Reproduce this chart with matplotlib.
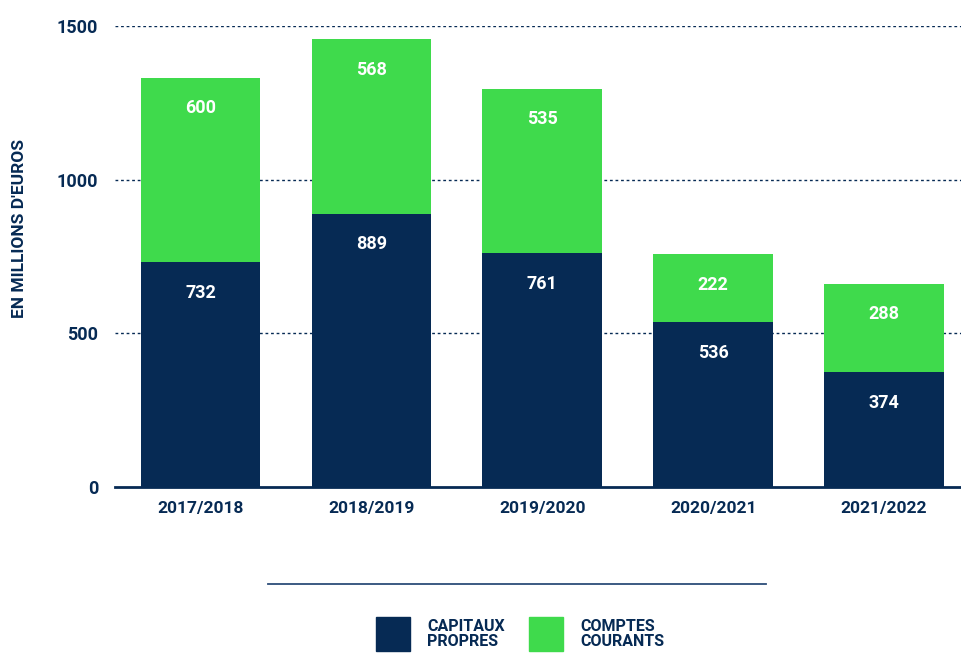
import matplotlib
matplotlib.use("Agg")
import matplotlib.pyplot as plt
from matplotlib import font_manager
from matplotlib.patches import Rectangle
from matplotlib.lines import Line2D

categories = ["2017/2018", "2018/2019", "2019/2020", "2020/2021", "2021/2022"]
capitaux = [732, 889, 761, 536, 374]
comptes = [600, 568, 535, 222, 288]
yticks = [0, 500, 1000, 1500]
series_names = ["CAPITAUX\nPROPRES", "COMPTES\nCOURANTS"]

navy = "#062a54"
green = "#3fda4c"

avail = {f.name for f in font_manager.fontManager.ttflist}
fam = [f for f in ["Liberation Sans Narrow", "DejaVu Sans Condensed", "Roboto", "DejaVu Sans"] if f in avail]
plt.rcParams['font.family'] = fam

fig = plt.figure(figsize=(9.62, 6.54), dpi=100)
W, H = 962, 654
ax = fig.add_axes([115 / W, 1 - 487 / H, 1 - 115 / W, (487 - 26) / H])

x = list(range(len(categories)))
ax.bar(x, capitaux, width=0.70, color=navy, zorder=3)
ax.bar(x, comptes, bottom=capitaux, width=0.70, color=green, zorder=3)

for i in x:
    ax.annotate(str(capitaux[i]), (i, capitaux[i]), xytext=(0, -22), textcoords="offset points",
                ha="center", va="center", color="white", fontsize=13, fontweight="bold", zorder=4)
    top = capitaux[i] + comptes[i]
    ax.annotate(str(comptes[i]), (i, top), xytext=(0, -22), textcoords="offset points",
                ha="center", va="center", color="white", fontsize=13, fontweight="bold", zorder=4)

ax.set_xlim(-0.5, (W - 200) / 171)
ax.set_ylim(0, 1500)
ax.set_yticks(yticks)
ax.set_yticklabels([str(v) for v in yticks], fontsize=13, fontweight="bold", color=navy)
ax.set_xticks(x)
ax.set_xticklabels(categories, fontsize=12.5, fontweight="bold", color=navy)
ax.tick_params(axis="both", length=0)
ax.tick_params(axis="y", pad=12)
ax.tick_params(axis="x", pad=10)
for v in yticks[1:]:
    ax.axhline(v, color=navy, lw=1, ls=(0, (2, 2)), zorder=1)
for s in ["top", "right", "left"]:
    ax.spines[s].set_visible(False)
ax.spines["bottom"].set_color(navy)
ax.spines["bottom"].set_linewidth(2)
ax.spines["bottom"].set_zorder(5)

fig.text(20 / W, 1 - 228 / H, "EN MILLIONS D'EUROS", rotation=90, ha="center", va="center",
         fontsize=12.5, fontweight="bold", color=navy)

fig.add_artist(Line2D([268 / W, 766 / W], [1 - 584 / H, 1 - 584 / H], color="#2c4d78", lw=1.3))

fig.add_artist(Rectangle((376 / W, 1 - 651 / H), 34 / W, 34 / H, color=navy, transform=fig.transFigure))
fig.add_artist(Rectangle((529 / W, 1 - 651 / H), 34 / W, 34 / H, color=green, transform=fig.transFigure))
fig.text(427 / W, 1 - 634 / H, series_names[0], ha="left", va="center", fontsize=11.5,
         fontweight="bold", color=navy, linespacing=1.0)
fig.text(580 / W, 1 - 634 / H, series_names[1], ha="left", va="center", fontsize=11.5,
         fontweight="bold", color=navy, linespacing=1.0)

fig.savefig("out.png", dpi=100)
